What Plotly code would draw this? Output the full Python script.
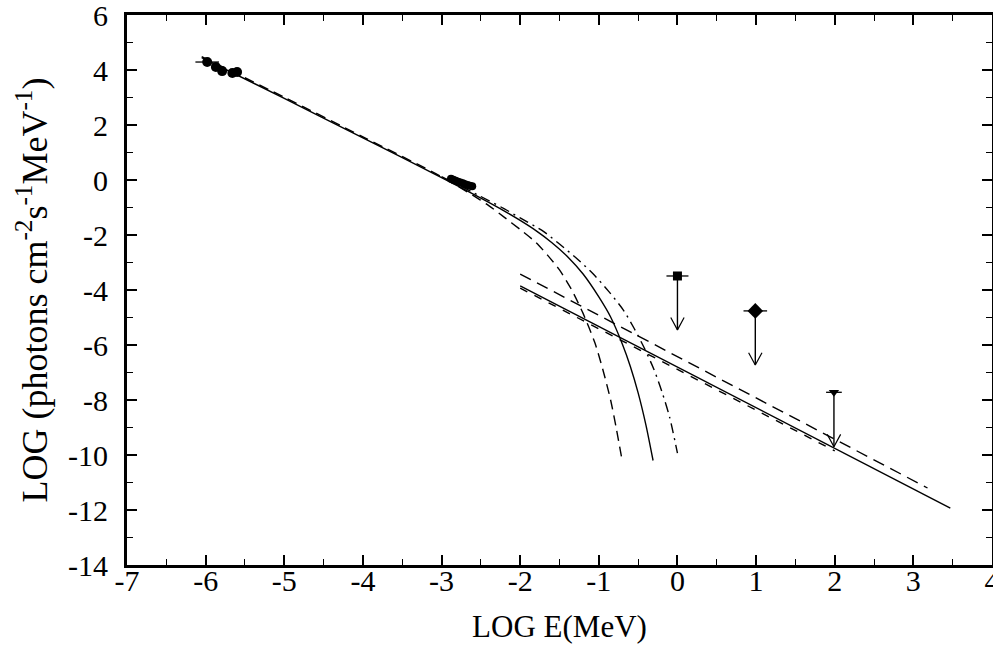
import plotly.graph_objects as go

# ---- data ----
# low-energy measured points
lowE_x = [-5.98, -5.87, -5.79, -5.66, -5.60]
lowE_y = [4.29, 4.11, 3.96, 3.89, 3.93]
lowE_xerr = [0.15, 0.05, 0.04, 0.04, 0.04]
lowE_yerr = [0.12, 0.12, 0.10, 0.08, 0.08]

# cluster of points near log E = -2.8
clu_x = [-2.88, -2.85, -2.82, -2.79, -2.76, -2.73, -2.70, -2.67, -2.64, -2.61]
clu_y = [0.05, 0.01, -0.03, -0.06, -0.09, -0.12, -0.15, -0.18, -0.21, -0.23]

# fitted spectra with cut-offs
solid_x = [-6.05, -5.0, -4.0, -3.0, -2.5, -2.2, -2.0, -1.8, -1.6, -1.4, -1.2, -1.0,
           -0.85, -0.7, -0.6, -0.5, -0.4, -0.31]
solid_y = [4.45, 2.97, 1.53, 0.09, -0.66, -1.13, -1.47, -1.84, -2.27, -2.78, -3.42, -4.25,
           -4.98, -5.97, -6.77, -7.74, -8.92, -10.2]

dash_x = [-6.05, -5.0, -4.0, -3.0, -2.6, -2.4, -2.2, -2.0, -1.8, -1.65, -1.5, -1.35,
          -1.2, -1.05, -0.95, -0.85, -0.78, -0.70]
dash_y = [4.49, 3.01, 1.57, 0.12, -0.56, -0.93, -1.36, -1.80, -2.27, -2.74, -3.27, -3.97,
          -4.85, -5.92, -6.88, -8.0, -9.0, -10.25]

dashdot_x = [-3.0, -2.5, -2.2, -2.0, -1.7, -1.5, -1.27, -1.07, -0.88, -0.69, -0.55,
             -0.42, -0.3, -0.2, -0.1, 0.0]
dashdot_y = [0.12, -0.6, -1.05, -1.38, -1.88, -2.33, -2.88, -3.42, -4.03, -4.72, -5.40,
             -6.12, -6.88, -7.68, -8.62, -9.93]

# high-energy power laws
he_solid_x = [-2.0, 3.47]
he_solid_y = [-3.85, -11.93]
he_dash_x = [-2.0, 3.18]
he_dash_y = [-3.42, -11.2]
he_dash2_x = [-2.0, 2.0]
he_dash2_y = [-3.93, -9.85]

# upper limits
ul_x = [0.0, 0.99, 1.99]
ul_y = [-3.49, -4.76, -7.72]
ul_tip = [-5.45, -6.73, -9.70]
ul_xerr = [0.14, 0.15, 0.10]
ul_sym = ["square", "diamond", "triangle-down"]
ul_size = [9, 12, 9]

x_ticks = [-7, -6, -5, -4, -3, -2, -1, 0, 1, 2, 3, 4]
y_ticks = [6, 4, 2, 0, -2, -4, -6, -8, -10, -12, -14]

FONT = "Liberation Serif"
BLACK = "black"

fig = go.Figure()

def line(x, y, dash, width=1.4, shape="linear"):
    fig.add_trace(go.Scatter(x=x, y=y, mode="lines",
                             line=dict(color=BLACK, width=width, dash=dash, shape=shape,
                                       smoothing=0.7 if shape == "spline" else None),
                             showlegend=False, hoverinfo="skip"))

line(solid_x, solid_y, "solid", shape="spline")
line(dash_x, dash_y, "10px,6px", shape="spline")
line(dashdot_x, dashdot_y, "10px,5px,2px,5px", shape="spline")
line(he_solid_x, he_solid_y, "solid")
line(he_dash_x, he_dash_y, "12px,7px")
line(he_dash2_x, he_dash2_y, "8px,8px")

# measured points
fig.add_trace(go.Scatter(
    x=lowE_x, y=lowE_y, mode="markers",
    marker=dict(symbol="circle", size=10, color=BLACK),
    error_x=dict(type="data", array=lowE_xerr, color=BLACK, thickness=1.3, width=0),
    error_y=dict(type="data", array=lowE_yerr, color=BLACK, thickness=1.3, width=0),
    showlegend=False, hoverinfo="skip"))
fig.add_trace(go.Scatter(
    x=clu_x, y=clu_y, mode="markers",
    marker=dict(symbol="circle", size=8, color=BLACK),
    error_y=dict(type="data", array=[0.1] * len(clu_x), color=BLACK, thickness=1.2, width=0),
    showlegend=False, hoverinfo="skip"))

# upper-limit arrows (shafts and open heads)
shaft_x, shaft_y, head_x, head_y = [], [], [], []
hw, hh = 0.085, 0.45
for x0, y0, yt in zip(ul_x, ul_y, ul_tip):
    shaft_x += [x0, x0, None]
    shaft_y += [y0, yt, None]
    head_x += [x0 - hw, x0, x0 + hw, None]
    head_y += [yt + hh, yt, yt + hh, None]
fig.add_trace(go.Scatter(x=shaft_x, y=shaft_y, mode="lines",
                         line=dict(color=BLACK, width=1.4), showlegend=False, hoverinfo="skip"))
fig.add_trace(go.Scatter(x=head_x, y=head_y, mode="lines",
                         line=dict(color=BLACK, width=1.2), showlegend=False, hoverinfo="skip"))
for x0, y0, xe, s, sz in zip(ul_x, ul_y, ul_xerr, ul_sym, ul_size):
    fig.add_trace(go.Scatter(
        x=[x0], y=[y0], mode="markers",
        marker=dict(symbol=s, size=sz, color=BLACK),
        error_x=dict(type="data", array=[xe], color=BLACK, thickness=1.3, width=0),
        showlegend=False, hoverinfo="skip"))

axis_common = dict(
    showline=True, linecolor=BLACK, linewidth=2.8, mirror="ticks",
    ticks="inside", ticklen=10, tickwidth=1.5, tickcolor=BLACK,
    showgrid=False, zeroline=False, ticklabeloverflow="allow", automargin=False,
    tickfont=dict(family=FONT, size=30, color=BLACK),
)

fig.update_xaxes(
    range=[-7, 4], tickvals=x_ticks, ticktext=[str(v) for v in x_ticks],
    minor=dict(ticks="inside", dtick=0.5, ticklen=6, tickwidth=1.2, tickcolor=BLACK, showgrid=False),
    title=dict(text="LOG E(MeV)", font=dict(family=FONT, size=31, color=BLACK), standoff=20),
    ticklabelstandoff=-13,
    **axis_common)
fig.update_yaxes(
    range=[-14, 6], tickvals=y_ticks, ticktext=[str(v) for v in y_ticks],
    minor=dict(ticks="inside", dtick=1, ticklen=6, tickwidth=1.2, tickcolor=BLACK, showgrid=False),
    title=dict(text="LOG (photons cm<sup>-2</sup>s<sup>-1</sup>MeV<sup>-1</sup>)",
               font=dict(family=FONT, size=36, color=BLACK), standoff=10),
    ticklabelstandoff=10,
    **axis_common)

fig.update_layout(
    width=993, height=652,
    margin=dict(l=127, r=1, t=15, b=87),
    plot_bgcolor="white", paper_bgcolor="white",
    font=dict(family=FONT, color=BLACK),
)

fig.write_html("out.html")
